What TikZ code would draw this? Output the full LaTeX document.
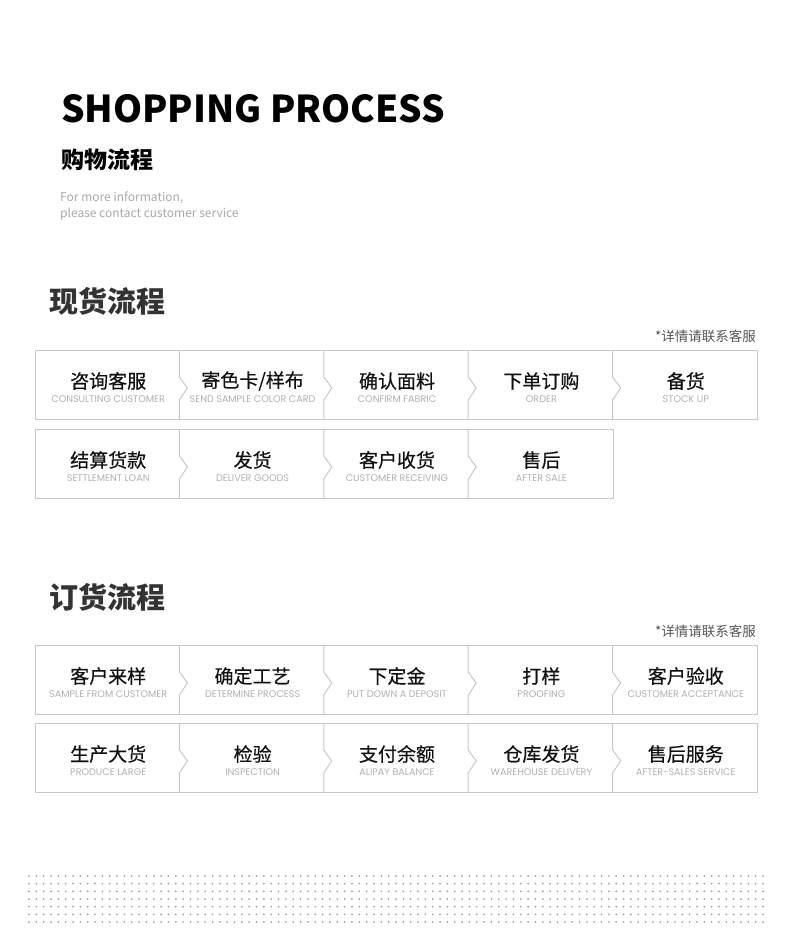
\documentclass[tikz,border=0pt]{standalone}
\usepackage{fontspec}
\setmainfont{Noto Sans CJK SC}
\newfontfamily\cjk{Noto Sans CJK SC}
\newfontfamily\cjkmed[FakeBold=0.4]{Noto Sans CJK SC}
\newfontfamily\thinlatin{Poppins}
\usetikzlibrary{positioning, calc}
\definecolor{Dark}{HTML}{111111}
\definecolor{Heading}{HTML}{333333}
\definecolor{Frame}{HTML}{C8C8C8}
\definecolor{Hint}{HTML}{A8A8A8}
\definecolor{Sub}{HTML}{B0B0B0}
\definecolor{Note}{HTML}{555555}
\definecolor{Dot}{HTML}{A0A0A0}
\tikzset{
    cellzh/.style={font=\cjkmed\fontsize{19}{19}\selectfont, text=Dark, inner sep=0pt},
    cellen/.style={font=\thinlatin\fontsize{9.6}{9.6}\selectfont, text=Sub, inner sep=0pt},
    sectiontitle/.style={anchor=west, font=\cjk\bfseries\fontsize{29}{29}\selectfont, text=Heading, inner sep=0pt},
    notetext/.style={anchor=east, font=\cjk\fontsize{13.5}{13.5}\selectfont, text=Note, inner sep=0pt},
    frameline/.style={draw=Frame, line width=1pt},
}

\begin{document}
\begin{tikzpicture}[x=1pt, y=-1pt]
    \useasboundingbox (0,0) rectangle (800,940);

    % --- Intestazione ---
    \node[anchor=base west, inner sep=0pt, font=\cjk\bfseries\fontsize{37}{37}\selectfont, text=black] (title) at (61,122) {SHOPPING PROCESS};
    \node[anchor=west, inner sep=0pt, font=\cjk\bfseries\fontsize{23}{23}\selectfont, text=black] (subtitle) at (61,160) {购物流程};
    \node[anchor=west, inner sep=0pt, font=\cjk\fontsize{12}{12}\selectfont, text=Hint] (info1) at (60,198) {For more information,};
    \node[anchor=west, inner sep=0pt, font=\cjk\fontsize{12}{12}\selectfont, text=Hint] (info2) at (60,214) {please contact customer service};

    % --- SEZIONE 1: 现货流程 ---
    \node[sectiontitle] (spot) at (49,301) {现货流程};
    \node[notetext] (spotnote) at (756,336) {*详情请联系客服};

    % Riga 1 (cinque celle)
    \draw[frameline] (35,350) rectangle (757,419);
    \foreach \k in {1,...,4}
        \draw[frameline] ({35+\k*144.4},350) -- ++(0,27) -- ++(8,11) -- ++(-8,12) -- ({35+\k*144.4},419);
    \foreach \zh/\en [count=\i] in {咨询客服/CONSULTING CUSTOMER, {寄色卡/样布}/SEND SAMPLE COLOR CARD, 确认面料/CONFIRM FABRIC, 下单订购/ORDER, 备货/STOCK UP} {
        \node[cellzh] (sa\i) at ({35+(\i-0.5)*144.4+1}, 381) {\zh};
        \node[cellen] (sa\i en) at ({35+(\i-0.5)*144.4+1}, 399.5) {\en};
    }

    % Riga 2 (quattro celle)
    \draw[frameline] (35,429) rectangle (613.6,498);
    \foreach \k in {1,...,3}
        \draw[frameline] ({35+\k*144.4},429) -- ++(0,27) -- ++(8,11) -- ++(-8,12) -- ({35+\k*144.4},498);
    \foreach \zh/\en [count=\i] in {结算货款/SETTLEMENT LOAN, 发货/DELIVER GOODS, 客户收货/CUSTOMER RECEIVING, 售后/AFTER SALE} {
        \node[cellzh] (sb\i) at ({35+(\i-0.5)*144.4+1}, 460) {\zh};
        \node[cellen] (sb\i en) at ({35+(\i-0.5)*144.4+1}, 478.5) {\en};
    }

    % --- SEZIONE 2: 订货流程 ---
    \node[sectiontitle] (order) at (49,597) {订货流程};
    \node[notetext] (ordernote) at (756,631) {*详情请联系客服};

    % Riga 1
    \draw[frameline] (35,645) rectangle (757,714);
    \foreach \k in {1,...,4}
        \draw[frameline] ({35+\k*144.4},645) -- ++(0,27) -- ++(8,11) -- ++(-8,12) -- ({35+\k*144.4},714);
    \foreach \zh/\en [count=\i] in {客户来样/SAMPLE FROM CUSTOMER, 确定工艺/DETERMINE PROCESS, 下定金/PUT DOWN A DEPOSIT, 打样/PROOFING, 客户验收/CUSTOMER ACCEPTANCE} {
        \node[cellzh] (oa\i) at ({35+(\i-0.5)*144.4+1}, 676) {\zh};
        \node[cellen] (oa\i en) at ({35+(\i-0.5)*144.4+1}, 694.5) {\en};
    }

    % Riga 2
    \draw[frameline] (35,723) rectangle (757,792);
    \foreach \k in {1,...,4}
        \draw[frameline] ({35+\k*144.4},723) -- ++(0,27) -- ++(8,11) -- ++(-8,12) -- ({35+\k*144.4},792);
    \foreach \zh/\en [count=\i] in {生产大货/PRODUCE LARGE, 检验/INSPECTION, 支付余额/ALIPAY BALANCE, 仓库发货/WAREHOUSE DELIVERY, 售后服务/AFTER-SALES SERVICE} {
        \node[cellzh] (ob\i) at ({35+(\i-0.5)*144.4+1}, 754) {\zh};
        \node[cellen] (ob\i en) at ({35+(\i-0.5)*144.4+1}, 772.5) {\en};
    }

    % --- Griglia di punti ---
    \foreach \i in {0,...,100}
        \foreach \j in {0,...,6}
            \fill[Dot] ({29+\i*7.34}, {876+\j*7.67}) circle (1);
\end{tikzpicture}
\end{document}
